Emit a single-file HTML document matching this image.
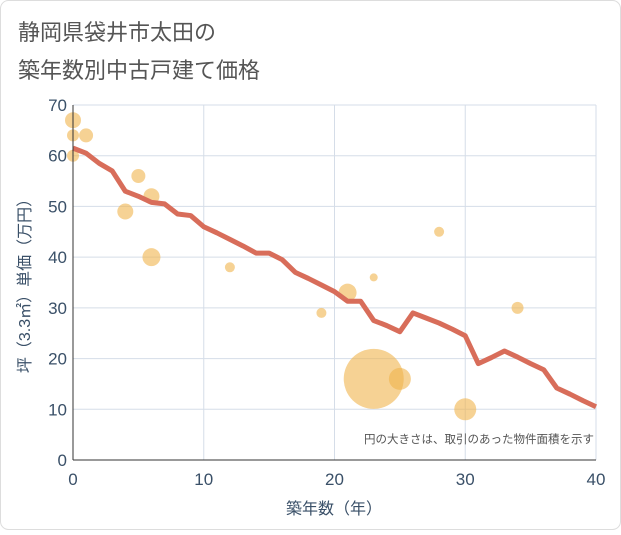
<!DOCTYPE html>
<html><head><meta charset="utf-8"><style>
body{margin:0;background:#fff;font-family:"Liberation Sans","Noto Sans CJK JP",sans-serif}
</style></head><body>
<svg width="621" height="530" font-family="Liberation Sans, Noto Sans CJK JP, sans-serif">
<rect x="0.5" y="0.5" width="620" height="529" rx="8" fill="#fff" stroke="#ddd"/>
<text x="18" y="40" font-size="22" fill="#555">静岡県袋井市太田の</text>
<text x="18" y="78" font-size="22" fill="#555">築年数別中古戸建て価格</text>
<g id="grid"></g>
<g id="bubbles"></g>
<g id="line"></g>
<g id="axes"></g>
<text x="594" y="443" font-size="11.5" fill="#555" text-anchor="end">円の大きさは、取引のあった物件面積を示す</text>
<text x="334" y="514" font-size="16" fill="#3a5068" text-anchor="middle">築年数（年）</text>
<text transform="translate(30,282) rotate(-90)" font-size="16" fill="#3a5068" text-anchor="middle">坪（3.3㎡）単価（万円）</text>
</svg>
<script>
const xTicks=[0,10,20,30,40];
const yTicks=[0,10,20,30,40,50,60,70];
const lineX=[0,1,2,3,4,5,6,7,8,9,10,11,12,13,14,15,16,17,18,19,20,21,22,23,24,25,26,27,28,29,30,31,32,33,34,35,36,37,38,39,40];
const lineY=[61.5,60.5,58.5,57,53,52,50.8,50.5,48.5,48.2,46,44.8,43.5,42.2,40.8,40.8,39.5,37,35.8,34.5,33.2,31.3,31.3,27.5,26.5,25.3,29,28,27,25.8,24.5,19,20.2,21.5,20.3,19,17.8,14.2,13,11.7,10.5];
const bubX=[0,0,0,1,4,5,6,6,12,19,21,23,23,25,28,30,34];
const bubY=[67,64,60,64,49,56,52,40,38,29,33,36,16,16,45,10,30];
const bubS=[8,6,6,7,8,7,8,9,5,5,9,4,30,11,5,11,6];
const NS='http://www.w3.org/2000/svg';
const X=v=>73+v*(596-73)/40, Y=v=>460-v*(460-105)/70;
function mk(t,a,p){const e=document.createElementNS(NS,t);for(const k in a)e.setAttribute(k,a[k]);p.appendChild(e);return e;}
const g=document.getElementById('grid'),ax=document.getElementById('axes');
yTicks.forEach(v=>{const l=mk('line',{x1:73,x2:596,y1:Y(v),y2:Y(v),stroke:'#d5dde8'},g);

const t=mk('text',{x:67,y:Y(v)+6,'font-size':17,fill:'#3a5068','text-anchor':'end'},ax);t.textContent=v;
});
xTicks.forEach(v=>{const l=mk('line',{x1:X(v),x2:X(v),y1:105,y2:460,stroke:'#d5dde8'},g);

const t=mk('text',{x:X(v),y:485,'font-size':17,fill:'#3a5068','text-anchor':'middle'},ax);t.textContent=v;
});
const a1=mk('line',{x1:73,x2:73,y1:105,y2:460,stroke:'#333'},ax);
const a2=mk('line',{x1:73,x2:596,y1:460,y2:460,stroke:'#333'},ax);
const b=document.getElementById('bubbles');
bubX.forEach((v,i)=>{const c=mk('circle',{cx:X(v),cy:Y(bubY[i]),r:bubS[i],fill:'#f0b44c','fill-opacity':0.6},b);
});
const p=mk('polyline',{points:lineX.map((v,i)=>X(v)+','+Y(lineY[i])).join(' '),fill:'none',stroke:'#d86d5a','stroke-width':5,'stroke-linejoin':'round'},document.getElementById('line'));

</script>
</body></html>
